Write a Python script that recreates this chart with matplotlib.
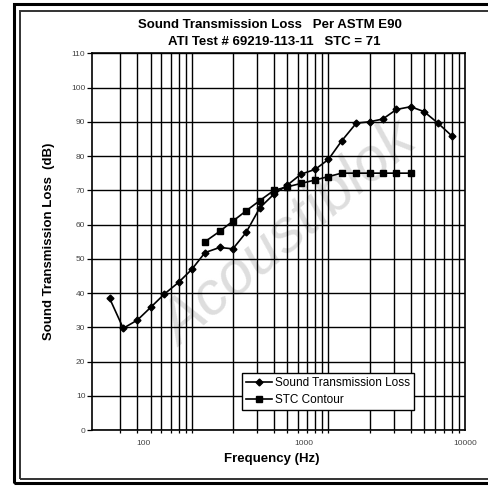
import numpy as np
import matplotlib
matplotlib.use('Agg')
import matplotlib.pyplot as plt
from matplotlib.patches import Rectangle
from matplotlib.ticker import FixedLocator, NullFormatter

plt.rcParams['font.family'] = ['Liberation Sans', 'DejaVu Sans']

# 1/3 octave band centre frequencies (Hz)
stl_freq = [25, 31.5, 40, 50, 63, 80, 100, 125, 160, 200, 250, 315, 400, 500,
            630, 800, 1000, 1250, 1600, 2000, 2500, 3150, 4000, 5000, 6300, 8000]
stl_db = [38.5, 29.7, 32.1, 35.8, 39.7, 43.1, 46.9, 51.8, 53.3, 52.9, 57.7, 64.9, 68.9,
          71.5, 74.7, 76.1, 79.0, 84.4, 89.6, 90.0, 90.8, 93.6, 94.4, 93.0, 89.7, 85.9]

stc_freq = [125, 160, 200, 250, 315, 400, 500, 630, 800, 1000, 1250, 1600, 2000, 2500, 3150, 4000]
stc_db = [55, 58, 61, 64, 67, 70, 71, 72, 73, 74, 75, 75, 75, 75, 75, 75]

# the printed axis labels sit off the decade lines in the original
xtick_pos = [44.3, 664, 10000]
xtick_labels = ['100', '1000', '10000']
grid_freq = [30, 40, 50, 60, 70, 80, 90,
             100, 200, 300, 400, 500, 600, 700, 800, 900,
             1000, 2000, 3000, 4000, 5000, 6000, 7000, 8000, 9000]

W, H = 489, 486
fig = plt.figure(figsize=(W / 100, H / 100), dpi=100)
ax = fig.add_axes([92.3 / W, 56 / H, 372.7 / W, 376.7 / H])

ax.plot(stl_freq, stl_db, color='black', lw=1.2, marker='D', ms=3.5,
        label='Sound Transmission Loss', zorder=3)
ax.plot(stc_freq, stc_db, color='black', lw=1.2, marker='s', ms=4.5,
        label='STC Contour', zorder=3)

ax.set_xscale('log')
ax.set_xlim(18.7, 10000)
ax.set_ylim(0, 110)
ax.set_yticks(np.arange(0, 111, 10))

ax.set_xticks(xtick_pos, xtick_labels)
ax.xaxis.set_minor_locator(FixedLocator(grid_freq))
ax.xaxis.set_minor_formatter(NullFormatter())
ax.tick_params(axis='x', which='major', length=0, pad=7, labelsize=6, labelcolor='#444444')
ax.tick_params(axis='x', which='minor', length=2.5, width=0.9, direction='out')
ax.tick_params(axis='y', which='major', length=3.5, width=0.9, pad=1.5,
               labelsize=6, labelcolor='#444444')

ax.grid(True, which='minor', axis='x', color='black', lw=1.0)
ax.grid(True, which='major', axis='y', color='black', lw=1.0)
ax.grid(False, which='major', axis='x')
for s in ax.spines.values():
    s.set_linewidth(1.2)

ax.legend(loc='upper left', bbox_to_anchor=(241.7 / W, 1 - 372.7 / H),
          bbox_transform=fig.transFigure, fontsize=8.5, frameon=True,
          fancybox=False, edgecolor='black', framealpha=1, borderaxespad=0,
          handlelength=2.2, handletextpad=0.3, labelspacing=0.45, borderpad=0.35)

# watermark
ax.text(290 / W, 1 - 235 / H, 'Acoustiblok', transform=fig.transFigure,
        rotation=40, ha='center', va='center', fontsize=44, style='italic',
        color='#dedede', zorder=0.1, clip_on=False)

fig.text(270 / W, 1 - 25 / H, 'Sound Transmission Loss   Per ASTM E90',
         ha='center', va='center', fontsize=9.5, fontweight='bold')
fig.text(274 / W, 1 - 41.7 / H, 'ATI Test # 69219-113-11   STC = 71',
         ha='center', va='center', fontsize=9.5, fontweight='bold')
fig.text(272 / W, 1 - 459 / H, 'Frequency (Hz)', ha='center', va='center',
         fontsize=9.5, fontweight='bold')
fig.text(49 / W, 1 - 241.7 / H, 'Sound Transmission Loss  (dB)', ha='center',
         va='center', rotation=90, fontsize=9.5, fontweight='bold')

# double border around the picture
fig.add_artist(Rectangle((14 / W, 1 - 483 / H), 500 / W, (483 - 4.5) / H,
                         transform=fig.transFigure, fill=False, lw=2.2, ec='black'))
fig.add_artist(Rectangle((20 / W, 1 - 479 / H), 500 / W, (479 - 11) / H,
                         transform=fig.transFigure, fill=False, lw=1.4, ec='#333333'))

fig.savefig('out.png', dpi=100)
